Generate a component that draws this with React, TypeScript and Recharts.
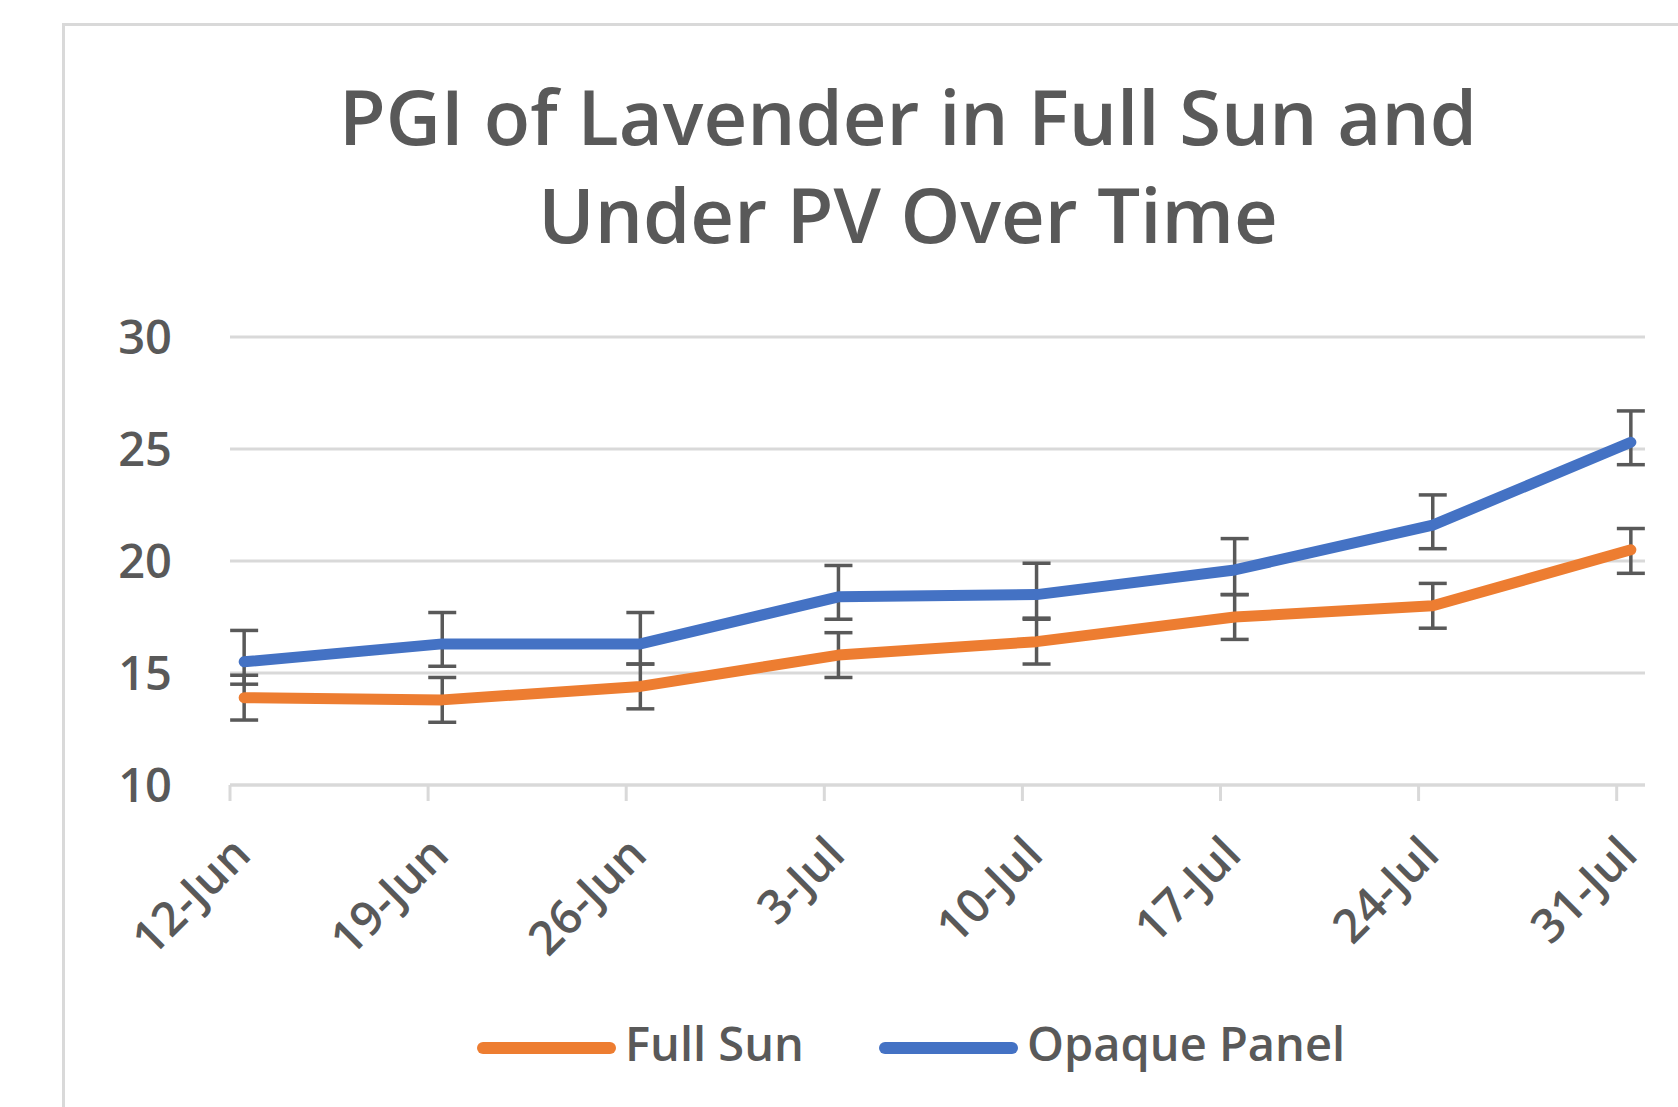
import { LineChart, Line, XAxis, YAxis, CartesianGrid, ErrorBar, Legend } from 'recharts'

const dates = ['12-Jun', '19-Jun', '26-Jun', '3-Jul', '10-Jul', '17-Jul', '24-Jul', '31-Jul']
// days counted from 12-Jun: where the date labels sit, and when each reading was taken
const labelDays = [0, 7, 14, 21, 28, 35, 42, 49]
const sampleDays = [0.5, 7.5, 14.5, 21.5, 28.5, 35.5, 42.5, 49.5]

const fullSun = [13.9, 13.8, 14.4, 15.8, 16.4, 17.5, 18.0, 20.5]
const fullSunErrLow = [1.0, 1.0, 1.0, 1.0, 1.0, 1.0, 1.0, 1.05]
const fullSunErrHigh = [1.0, 1.0, 1.0, 1.0, 1.0, 1.0, 1.0, 0.95]

const opaquePanel = [15.5, 16.3, 16.3, 18.4, 18.5, 19.6, 21.6, 25.3]
const opaqueErrLow = [1.0, 1.0, 0.9, 1.0, 1.05, 1.1, 1.05, 1.0]
const opaqueErrHigh = [1.4, 1.4, 1.4, 1.4, 1.4, 1.4, 1.35, 1.4]

const yTicks = [10, 15, 20, 25, 30]

const data = sampleDays.map((day, i) => ({
  day,
  fullSun: fullSun[i],
  fullSunErr: [fullSunErrLow[i], fullSunErrHigh[i]],
  opaquePanel: opaquePanel[i],
  opaqueErr: [opaqueErrLow[i], opaqueErrHigh[i]],
}))

const FONT = '"Open Sans", "Noto Sans", sans-serif'
const WEIGHT = 600
const TEXT = '#595959'
const GRID = '#d9d9d9'
const ORANGE = '#ED7D31'
const BLUE = '#4472C4'

function DateTick({ x, y, payload }: any) {
  const label = dates[labelDays.indexOf(payload.value)]
  const bx = x + 23
  const by = y + 56
  return (
    <text
      x={bx}
      y={by}
      transform={`rotate(-45, ${bx}, ${by})`}
      textAnchor="end"
      fill={TEXT}
      fontSize={47}
      fontWeight={WEIGHT}
      fontFamily={FONT}
    >
      {label}
    </text>
  )
}

function LegendContent() {
  const items = [
    { name: 'Full Sun', color: ORANGE, width: 402 },
    { name: 'Opaque Panel', color: BLUE, width: 480 },
  ]
  return (
    <div style={{ display: 'flex', paddingLeft: 475, height: 60 }}>
      {items.map((it) => (
        <div key={it.name} style={{ display: 'flex', alignItems: 'flex-start', width: it.width }}>
          <svg width={142} height={60} style={{ flexShrink: 0 }}>
            <line x1={8} y1={35} x2={135} y2={35} stroke={it.color} strokeWidth={12} strokeLinecap="round" />
          </svg>
          <span
            style={{
              marginLeft: 8,
              fontFamily: FONT,
              fontSize: 47,
              fontWeight: WEIGHT,
              lineHeight: '60px',
              color: TEXT,
              whiteSpace: 'nowrap',
            }}
          >
            {it.name}
          </span>
        </div>
      ))}
    </div>
  )
}

export default function App() {
  return (
    <div
      style={{
        position: 'absolute',
        left: 0,
        top: 0,
        width: 1678,
        height: 1107,
        overflow: 'hidden',
        background: '#fff',
      }}
    >
      <div
        style={{
          position: 'absolute',
          left: 62,
          top: 23,
          width: 2000,
          height: 2000,
          border: `3px solid ${GRID}`,
        }}
      />
      <svg width={1678} height={300} style={{ position: 'absolute', left: 0, top: 0 }}>
        <text x={908} y={145} textAnchor="middle" fill={TEXT} fontSize={76} fontWeight={WEIGHT} fontFamily={FONT}>
          PGI of Lavender in Full Sun and
        </text>
        <text x={908} y={243} textAnchor="middle" fill={TEXT} fontSize={76} fontWeight={WEIGHT} fontFamily={FONT}>
          Under PV Over Time
        </text>
      </svg>
      <div style={{ position: 'absolute', left: 0, top: 0 }}>
        <LineChart
          width={1678}
          height={1107}
          data={data}
          margin={{ top: 337, right: 33, bottom: 222, left: 170 }}
        >
          <CartesianGrid horizontal vertical={false} stroke={GRID} strokeWidth={3} />
          <XAxis
            dataKey="day"
            type="number"
            domain={[0, 50]}
            ticks={labelDays}
            interval={0}
            height={100}
            tickSize={16}
            tickMargin={0}
            axisLine={{ stroke: GRID, strokeWidth: 3 }}
            tickLine={{ stroke: GRID, strokeWidth: 3 }}
            tick={<DateTick />}
          />
          <YAxis
            domain={[10, 30]}
            ticks={yTicks}
            width={60}
            axisLine={false}
            tickLine={false}
            tickSize={0}
            tickMargin={58}
            tick={{ fill: TEXT, fontSize: 47, fontWeight: WEIGHT, fontFamily: FONT }}
          />
          <Legend
            layout="horizontal"
            verticalAlign="middle"
            align="center"
            content={<LegendContent />}
            wrapperStyle={{ top: 1013, left: 0, width: 1678, bottom: 'auto' }}
          />
          {/* error bars first so the series lines sit on top of them */}
          <Line dataKey="opaquePanel" stroke="none" dot={false} isAnimationActive={false} legendType="none">
            <ErrorBar dataKey="opaqueErr" direction="y" width={14} stroke={TEXT} strokeWidth={3.5} />
          </Line>
          <Line dataKey="fullSun" stroke="none" dot={false} isAnimationActive={false} legendType="none">
            <ErrorBar dataKey="fullSunErr" direction="y" width={14} stroke={TEXT} strokeWidth={3.5} />
          </Line>
          <Line
            dataKey="opaquePanel"
            name="Opaque Panel"
            type="linear"
            stroke={BLUE}
            strokeWidth={11}
            strokeLinecap="round"
            strokeLinejoin="round"
            dot={false}
            activeDot={false}
            isAnimationActive={false}
          />
          <Line
            dataKey="fullSun"
            name="Full Sun"
            type="linear"
            stroke={ORANGE}
            strokeWidth={11}
            strokeLinecap="round"
            strokeLinejoin="round"
            dot={false}
            activeDot={false}
            isAnimationActive={false}
          />
        </LineChart>
      </div>
    </div>
  )
}
